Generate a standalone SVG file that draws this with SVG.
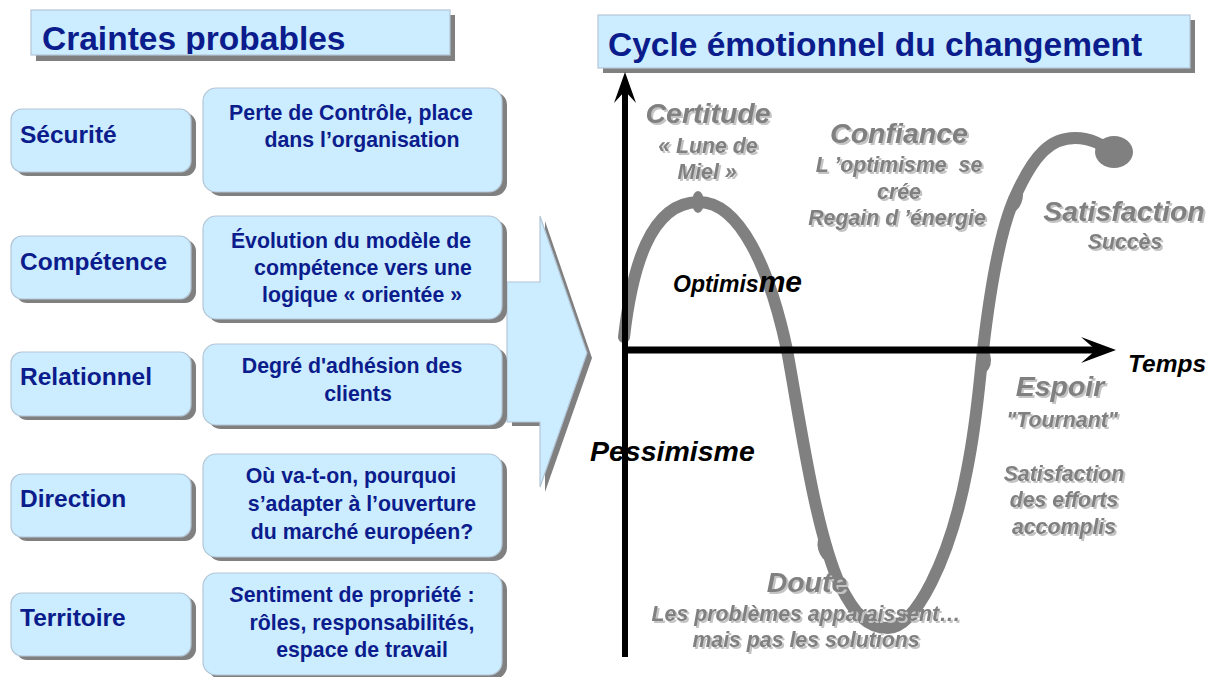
<svg xmlns="http://www.w3.org/2000/svg" width="1215" height="677" viewBox="0 0 1215 677">
<defs>
<style>
.box{fill:#CCECFF;stroke:#B3C6D6;stroke-width:1.2}
.shd{fill:#808080}
.lbl{font-family:"Liberation Sans",Arial,sans-serif;font-weight:bold;fill:#0B1C8C}
.ttl{font-size:33.5px}
.cat{font-size:24.5px}
.txt{font-size:21.3px;text-anchor:middle}
.gr{font-family:"Liberation Sans",Arial,sans-serif;font-weight:bold;font-style:italic;fill:#808080;text-anchor:middle;filter:url(#ts)}
.big{font-size:28.5px}
.sm{font-size:21.3px}
.bk{font-family:"Liberation Sans",Arial,sans-serif;font-weight:bold;font-style:italic;fill:#000}
</style>
<filter id="ts" x="-10%" y="-20%" width="130%" height="150%">
<feDropShadow dx="2" dy="2" stdDeviation="0.4" flood-color="#C4C4C4" flood-opacity="1"/>
</filter>
<clipPath id="clipL"><rect x="31" y="10" width="419" height="44"/></clipPath>
</defs>
<rect x="0" y="0" width="1215" height="677" fill="#FFFFFF"/>

<!-- big arrow -->
<g id="bigArrow">
<polygon class="shd" points="512,287 545,287 545,221 592,358 545,492 545,426 512,426"/>
<polygon fill="#CCECFF" stroke="#B3C6D6" stroke-width="1.2" points="507,282 540,282 540,216 587,353 540,487 540,422 507,422"/>
</g>

<!-- left title -->
<g id="titleLeft">
<rect class="shd" x="36" y="15" width="419" height="46"/>
<rect class="box" x="31" y="10" width="419" height="45"/>
<text class="lbl ttl" x="42" y="50" clip-path="url(#clipL)">Craintes probables</text>
</g>

<!-- right title -->
<g id="titleRight">
<rect class="shd" x="603" y="20" width="592" height="53"/>
<rect class="box" x="598" y="15" width="592" height="53"/>
<text class="lbl ttl" x="608" y="56">Cycle émotionnel du changement</text>
</g>

<!-- category boxes -->
<g id="catSecurite">
<rect class="shd" x="16" y="113" width="180" height="63" rx="11"/>
<rect class="box" x="11" y="109" width="180" height="63" rx="11"/>
<text class="lbl cat" x="20" y="143">Sécurité</text>
</g>
<g id="catCompetence">
<rect class="shd" x="16" y="240" width="180" height="63" rx="11"/>
<rect class="box" x="11" y="236" width="180" height="63" rx="11"/>
<text class="lbl cat" x="20" y="270">Compétence</text>
</g>
<g id="catRelationnel">
<rect class="shd" x="16" y="356" width="180" height="64" rx="11"/>
<rect class="box" x="11" y="352" width="180" height="64" rx="11"/>
<text class="lbl cat" x="20" y="385">Relationnel</text>
</g>
<g id="catDirection">
<rect class="shd" x="16" y="478" width="180" height="63" rx="11"/>
<rect class="box" x="11" y="474" width="180" height="63" rx="11"/>
<text class="lbl cat" x="20" y="507">Direction</text>
</g>
<g id="catTerritoire">
<rect class="shd" x="16" y="597" width="180" height="63" rx="11"/>
<rect class="box" x="11" y="593" width="180" height="63" rx="11"/>
<text class="lbl cat" x="20" y="626">Territoire</text>
</g>

<!-- description boxes -->
<g id="descSecurite">
<rect class="shd" x="208" y="92" width="299" height="104" rx="13"/>
<rect class="box" x="203" y="88" width="299" height="104" rx="13"/>
<text class="lbl txt" x="351" y="120">Perte de Contrôle, place</text>
<text class="lbl txt" x="362" y="147">dans l’organisation</text>
</g>
<g id="descCompetence">
<rect class="shd" x="208" y="220" width="299" height="103" rx="13"/>
<rect class="box" x="203" y="216" width="299" height="103" rx="13"/>
<text class="lbl txt" x="351" y="248">Évolution du modèle de</text>
<text class="lbl txt" x="363" y="275">compétence vers une</text>
<text class="lbl txt" x="362" y="302">logique « orientée »</text>
</g>
<g id="descRelationnel">
<rect class="shd" x="208" y="348" width="299" height="81" rx="13"/>
<rect class="box" x="203" y="344" width="299" height="81" rx="13"/>
<text class="lbl txt" x="352" y="373">Degré d'adhésion des</text>
<text class="lbl txt" x="358" y="401">clients</text>
</g>
<g id="descDirection">
<rect class="shd" x="208" y="458" width="299" height="103" rx="13"/>
<rect class="box" x="203" y="454" width="299" height="103" rx="13"/>
<text class="lbl txt" x="351" y="483">Où va-t-on, pourquoi</text>
<text class="lbl txt" x="362" y="511">s’adapter à l’ouverture</text>
<text class="lbl txt" x="362" y="539">du marché européen?</text>
</g>
<g id="descTerritoire">
<rect class="shd" x="208" y="577" width="299" height="102" rx="13"/>
<rect class="box" x="203" y="573" width="299" height="102" rx="13"/>
<text class="lbl txt" x="352" y="602"><tspan font-style="italic">S</tspan>entiment de propriété :</text>
<text class="lbl txt" x="362" y="630">rôles, responsabilités,</text>
<text class="lbl txt" x="362" y="657">espace de travail</text>
</g>

<!-- chart -->
<g id="curve">
<path d="M624,337 C632,268 650,203 698,202 C740,201 770,270 787,350 C800,420 815,530 840,585 C855,615 868,628 888,628 C915,628 950,560 967,470 C977,420 979,385 983,350 C990,290 1000,230 1015,197 C1035,152 1052,138 1075,138 C1092,138 1102,145 1112,152" fill="none" stroke="#808080" stroke-width="12" stroke-linecap="round"/>
<ellipse cx="698" cy="202" rx="6" ry="11" fill="#808080"/>
<ellipse cx="825" cy="548" rx="7" ry="13" fill="#808080" transform="rotate(-15 825 548)"/>
<ellipse cx="1015" cy="200" rx="7" ry="13" fill="#808080" transform="rotate(20 1015 200)"/>
<ellipse cx="984" cy="360" rx="7" ry="12" fill="#808080"/>
<ellipse cx="1114" cy="152" rx="19" ry="16" fill="#808080"/>
</g>

<g id="axes">
<line x1="625" y1="88" x2="625" y2="657" stroke="#000" stroke-width="6"/>
<polygon points="625,72 614,103 625,91 636,103" fill="#000"/>
<line x1="622" y1="350" x2="1100" y2="350" stroke="#000" stroke-width="7"/>
<polygon points="1116,350 1081,337 1096,350 1081,363" fill="#000"/>
</g>

<g id="labels">
<text class="gr big" x="708" y="123">Certitude</text>
<text class="gr sm" x="708" y="153">« Lune de</text>
<text class="gr sm" x="707" y="179">Miel »</text>

<text class="gr big" x="899" y="143">Confiance</text>
<text class="gr sm" x="899" y="172" style="white-space:pre">L ’optimisme  se</text>
<text class="gr sm" x="899" y="199">crée</text>
<text class="gr sm" x="897" y="225">Regain d ’énergie</text>

<text class="gr big" x="1124" y="221">Satisfaction</text>
<text class="gr sm" x="1125" y="249">Succès</text>

<text class="gr big" x="1060" y="396">Espoir</text>
<text class="gr sm" x="1062" y="427">"Tournant"</text>
<text class="gr sm" x="1064" y="481">Satisfaction</text>
<text class="gr sm" x="1064" y="507">des efforts</text>
<text class="gr sm" x="1064" y="534">accomplis</text>

<text class="gr big" x="807" y="592">Doute</text>
<text class="gr sm" x="806" y="621">Les problèmes apparaissent…</text>
<text class="gr sm" x="806" y="647">mais pas les solutions</text>

<text class="bk" x="673" y="292" font-size="23"><tspan>Optimis</tspan><tspan font-size="30">me</tspan></text>
<text class="bk" x="590" y="461" font-size="28.5">Pessimisme</text>
<text class="bk" x="1128" y="372" font-size="24.5">Temps</text>
</g>
</svg>
